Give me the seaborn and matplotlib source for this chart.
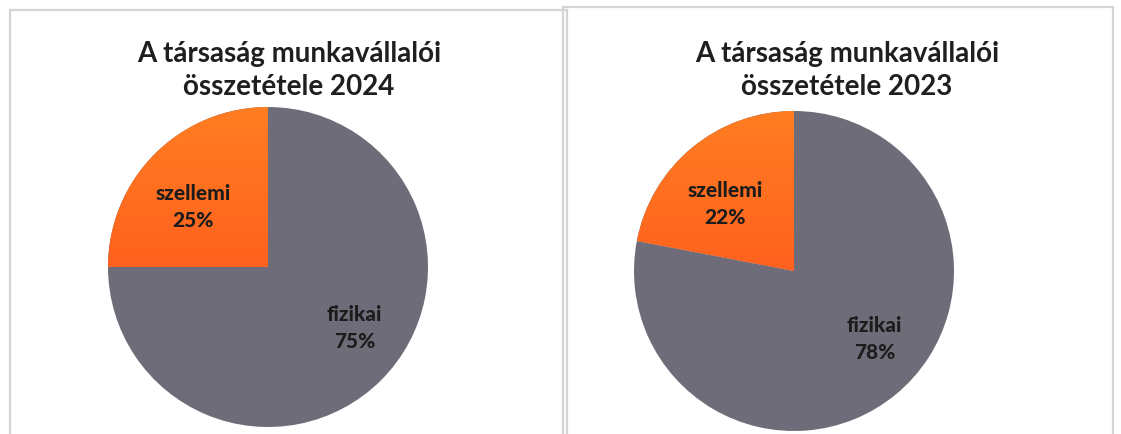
import numpy as np
import matplotlib
matplotlib.use("Agg")
import matplotlib.pyplot as plt
import seaborn as sns

sns.set_theme(style="white")
plt.rcParams["font.family"] = ["Lato", "DejaVu Sans"]

# Workforce composition by job type
categories = ["szellemi", "fizikai"]
share_2024 = [25, 75]
share_2023 = [22, 78]
years = ["2024", "2023"]
title_line1 = "A társaság munkavállalói"
title_line2 = "összetétele {}"

gray = "#6e6c78"
orange_top = np.array([255, 125, 34]) / 255
orange_bottom = np.array([255, 70, 26]) / 255

W, H = 1121, 434
fig = plt.figure(figsize=(W / 100, H / 100), dpi=100)
fig.patch.set_facecolor("white")

# panel frames
for (x0, y0, x1) in [(10, 10, 567), (563, 7, 1113)]:
    rect = plt.Rectangle((x0 / W, 0 - 0.05), (x1 - x0) / W, (H - y0) / H + 0.05,
                         transform=fig.transFigure, fill=False,
                         edgecolor="#d4d4d4", linewidth=1.6)
    fig.add_artist(rect)

panels = [
    (share_2024, years[0], 268, 267, 289),
    (share_2023, years[1], 794, 271, 847),
]

grad = np.linspace(0, 1, 256)[:, None]
grad_rgb = orange_top[None, None, :] * (1 - grad[..., None]) + orange_bottom[None, None, :] * grad[..., None]
grad_rgb = np.repeat(grad_rgb, 4, axis=1)

# label placement: radial distance and angular shift (degrees) per slice
label_dist = [0.60, 0.66]
label_shift = [6, 10]

R = 160
for values, year, cx, cy, tx in panels:
    ax = fig.add_axes([(cx - R) / W, (H - cy - R) / H, 2 * R / W, 2 * R / H])
    wedges, _ = ax.pie(values, colors=[gray, gray], startangle=90, counterclock=True,
                       radius=1, wedgeprops=dict(linewidth=0))
    # gradient fill for the white-collar slice
    img = ax.imshow(grad_rgb, extent=[-1, 1, -1, 1], origin="upper",
                    aspect="auto", zorder=wedges[0].get_zorder() + 0.1)
    img.set_clip_path(wedges[0])
    ax.set_xlim(-1, 1)
    ax.set_ylim(-1, 1)
    ax.axis("off")

    # slice labels: category name and percentage
    for w, cat, v, d, s in zip(wedges, categories, values, label_dist, label_shift):
        mid = np.deg2rad((w.theta1 + w.theta2) / 2 + s)
        ax.text(d * np.cos(mid), d * np.sin(mid), f"{cat}\n{v}%",
                ha="center", va="center", fontsize=15, fontweight="black",
                color="#1c1c1c", linespacing=1.5, zorder=5)

    fig.text(tx / W, 1 - 62 / H, title_line1, ha="center", va="baseline",
             fontsize=20, fontweight="bold", color="#1f1f1f")
    fig.text(tx / W, 1 - 95 / H, title_line2.format(year), ha="center", va="baseline",
             fontsize=20, fontweight="bold", color="#1f1f1f")

fig.savefig("out.png", dpi=100, facecolor="white")
